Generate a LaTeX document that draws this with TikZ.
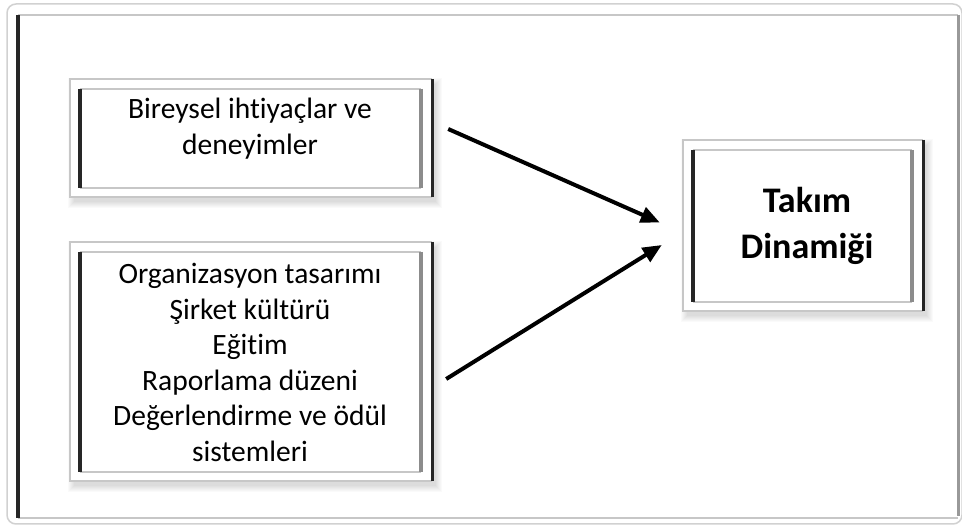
\documentclass[tikz,border=0pt]{standalone}
\usepackage{fontspec}
\setmainfont{Carlito}[Ligatures=NoCommon]
\usetikzlibrary{arrows.meta,calc}
\tikzset{
  innerbox/.style={inner sep=0pt,draw=none},
  lbl/.style={inner sep=0pt,align=center,font=\fontsize{29.5}{35.5}\selectfont},
  lblbold/.style={inner sep=0pt,align=center,font=\bfseries\fontsize{36}{46}\selectfont},
  conn/.style={line width=4pt,-{Triangle[length=19pt,width=16pt]}},
  lightedge/.style={draw=black!22,line width=1.5pt},
  darkedge/.style={draw=black!85,line width=3pt},
  graythick/.style={draw=black!45,line width=3.5pt}
}
\newcommand\framedeco[1]{%
  \foreach \s in {0,1,...,6}{
    \fill[black,opacity=0.018]
      ([shift={(-10+4-\s,-10+5-\s)}]#1.north west) rectangle ([shift={(11+4+\s,9+5+\s)}]#1.south east);
  }
  \fill[white] ([shift={(-10,-10)}]#1.north west) rectangle ([shift={(11,9)}]#1.south east);
  % outer frame
  \draw[lightedge] ([shift={(11,-10)}]#1.north east) -- ([shift={(-10,-10)}]#1.north west)
     -- ([shift={(-10,9)}]#1.south west) -- ([shift={(11,9)}]#1.south east);
  \draw[darkedge] ([shift={(11,-10)}]#1.north east) -- ([shift={(11,9)}]#1.south east);
  % inner frame
  \draw[lightedge] (#1.north west) -- (#1.north east);
  \draw[lightedge] (#1.south west) -- (#1.south east);
  \draw[graythick] (#1.north east) -- (#1.south east);
  \draw[darkedge,line width=3.5pt] (#1.north west) -- (#1.south west);
}
\begin{document}
\begin{tikzpicture}[x=1pt,y=-1pt]
\useasboundingbox (0,0) rectangle (962,526);
\fill[white] (0,0) rectangle (962,526);
% page frame
\draw[draw=black!18,line width=1.5pt,rounded corners=9pt] (7,4) rectangle (962,524);
\draw[lightedge] (18,15) -- (958,15);
\draw[lightedge] (18,518) -- (958,518);
\draw[draw=black!40,line width=3pt] (958,15) -- (958,516);
\draw[draw=black!85,line width=3.5pt] (18,15) -- (18,518);
% boxes
\node[innerbox,minimum width=341pt,minimum height=99pt] (b1) at (250.5,138.5) {};
\node[innerbox,minimum width=341pt,minimum height=220pt] (b2) at (250.5,362) {};
\node[innerbox,minimum width=219pt,minimum height=152pt] (b3) at (802.5,226) {};
\framedeco{b1}
\framedeco{b2}
\framedeco{b3}
% texts
\node[lbl] (t1) at (250,128.5) {Bireysel ihtiyaçlar ve\\deneyimler};
\node[lbl] (t2) at (250,362.5) {Organizasyon tasarımı\\Şirket kültürü\\Eğitim\\Raporlama düzeni\\Değerlendirme ve ödül\\sistemleri};
\node[lblbold] (t3) at (807,226) {Takım\\Dinamiği};
% connectors
\draw[conn] ($(b1.east)+(27,-9.5)$) -- ($(b3.west)+(-33,-3.5)$);
\draw[conn] ($(b2.east)+(25,17)$) -- ($(b3.west)+(-31,19)$);
\end{tikzpicture}
\end{document}
